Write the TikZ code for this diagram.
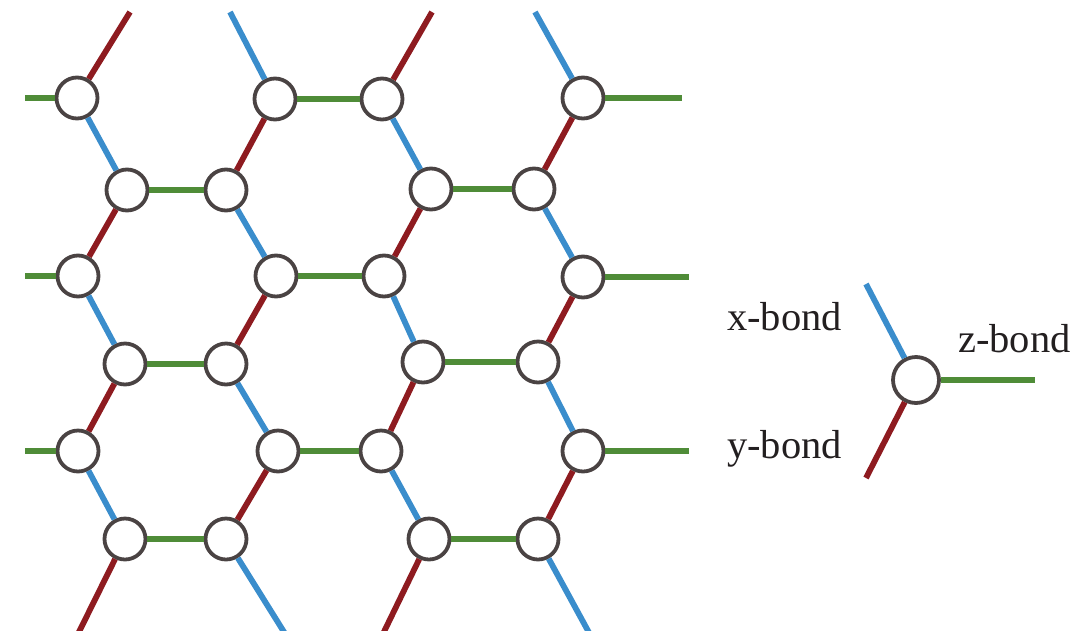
\documentclass[tikz,border=0pt]{standalone}
\usepackage{fontspec}
\setmainfont{Liberation Serif}
\usepackage{xcolor}
\usepackage{tikz}

\definecolor{xblue}{HTML}{3A8DCC}
\definecolor{yred}{HTML}{8E1B20}
\definecolor{zgreen}{HTML}{4F8C38}
\definecolor{sitegray}{HTML}{4A4343}
\definecolor{inkgray}{HTML}{231F20}

\begin{document}
\begin{tikzpicture}[
x=1pt, y=-1pt,
site/.style={circle, draw=sitegray, fill=white, line width=3.8pt, minimum size=41pt, inner sep=0pt},
xb/.style={draw=xblue, line width=5.8pt},
yb/.style={draw=yred, line width=5.8pt},
zb/.style={draw=zgreen, line width=5.8pt},
bondlabel/.style={anchor=base west, inner sep=0pt, text=inkgray, font=\fontsize{40.5}{48}\selectfont}
]
\clip (0,0) rectangle (1092,630);

% lattice sites, rows a..f
\foreach \n/\x/\y in {a1/77/98, a2/275/99, a3/382/99, a4/583/98,
                      b1/127/190, b2/226/190, b3/431/189, b4/534/189,
                      c1/78/276, c2/276/276, c3/384/276, c4/583/277,
                      d1/125/364, d2/226/364, d3/423/362, d4/538/362,
                      e1/78/451, e2/278/451, e3/381/451, e4/583/451,
                      f1/125/539, f2/226/539, f3/429/539, f4/538/539}
  \node[site] (\n) at (\x,\y) {};

% open ends at the edges
\coordinate (ta1) at (130,12);
\coordinate (ta2) at (230,12);
\coordinate (ta3) at (432,12);
\coordinate (ta4) at (535,12);
\coordinate (la1) at (25,98);
\coordinate (lc1) at (25,276);
\coordinate (le1) at (25,451);
\coordinate (ra4) at (682,98);
\coordinate (rc4) at (689,277);
\coordinate (re4) at (689,451);
\coordinate (bf1) at (75,640);
\coordinate (bf2) at (289,640);
\coordinate (bf3) at (380,640);
\coordinate (bf4) at (593,640);

% z-bonds
\foreach \u/\v in {a2/a3, b1/b2, b3/b4, c2/c3, d1/d2, d3/d4, e2/e3, f1/f2, f3/f4,
                   a1/la1, c1/lc1, e1/le1, a4/ra4, c4/rc4, e4/re4}
  \draw[zb] (\u) -- (\v);

% x-bonds
\foreach \u/\v in {a1/b1, a3/b3, b2/c2, b4/c4, c1/d1, c3/d3, d2/e2, d4/e4, e1/f1, e3/f3,
                   a2/ta2, a4/ta4, f2/bf2, f4/bf4}
  \draw[xb] (\u) -- (\v);

% y-bonds
\foreach \u/\v in {a2/b2, a4/b4, b1/c1, b3/c3, c2/d2, c4/d4, d1/e1, d3/e3, e2/f2, e4/f4,
                   a1/ta1, a3/ta3, f1/bf1, f3/bf3}
  \draw[yb] (\u) -- (\v);

% key
\node[site, minimum size=46pt] (key) at (916,380) {};
\coordinate (kx) at (866,284);
\coordinate (ky) at (866,478);
\coordinate (kz) at (1035,380);
\draw[xb] (key) -- (kx);
\draw[yb] (key) -- (ky);
\draw[zb] (key) -- (kz);

\node[bondlabel] (xlabel) at (727,330) {x-bond};
\node[bondlabel] (zlabel) at (958,352) {z-bond};
\node[bondlabel] (ylabel) at (727,458) {y-bond};
\end{tikzpicture}
\end{document}
